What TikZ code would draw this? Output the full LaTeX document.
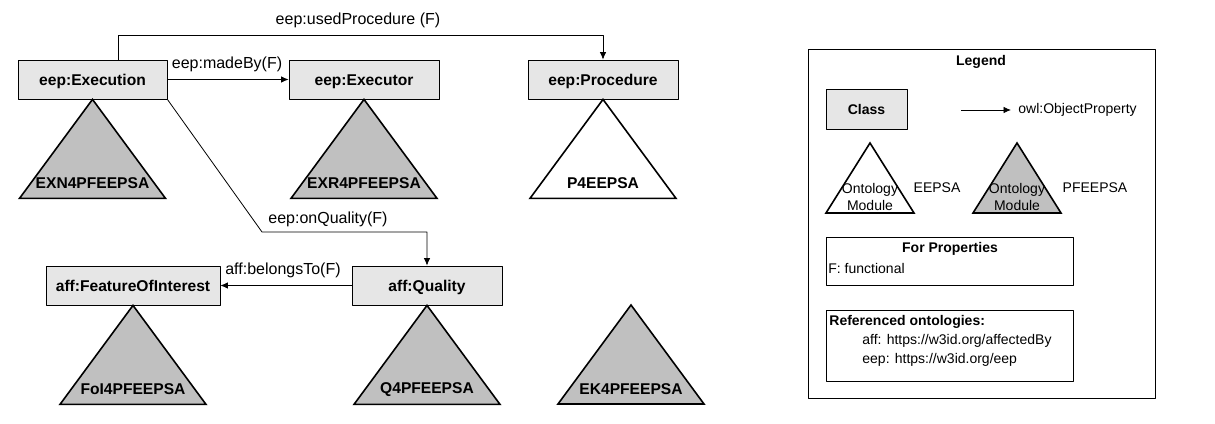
\documentclass[tikz,border=0pt]{standalone}
\usepackage{fontspec}
\setmainfont{Liberation Sans}
\usetikzlibrary{arrows.meta}
\definecolor{classfill}{RGB}{230,230,230}
\definecolor{modulefill}{RGB}{192,192,192}
\tikzset{
  classbox/.style={draw, fill=classfill, line width=0.8bp, minimum height=39bp, inner sep=0pt, text height=11.2bp, text depth=0pt, font=\fontsize{15.6bp}{18bp}\selectfont\bfseries},
  module/.style={draw, line width=1.6bp, line join=miter, fill=modulefill},
  emptymodule/.style={module, fill=white},
  modlabel/.style={inner sep=0pt, font=\fontsize{15.6bp}{18bp}\selectfont\bfseries},
  proplabel/.style={inner sep=0pt, font=\fontsize{16bp}{18bp}\selectfont},
  legendtext/.style={inner sep=0pt, font=\fontsize{14bp}{17bp}\selectfont},
  legendbold/.style={inner sep=0pt, font=\fontsize{14bp}{17bp}\selectfont\bfseries},
  framebox/.style={draw, line width=0.8bp, inner sep=0pt},
}
\begin{document}
\begin{tikzpicture}[>={Latex[length=7.5bp,width=6.5bp]},line join=bevel]
  \pgfsetlinewidth{0.8bp}
  \useasboundingbox (0bp,0bp) rectangle (1215bp,424bp);
%%
  % Node: eep:Execution
  \node[classbox, minimum width=149bp] (exec) at (92.5bp,344.5bp) {eep:Execution};
  % Node: eep:Executor
  \node[classbox, minimum width=150bp] (executor) at (364bp,344.5bp) {eep:Executor};
  % Node: eep:Procedure
  \node[classbox, minimum width=150bp] (proc) at (603bp,344.5bp) {eep:Procedure};
  % Node: aff:FeatureOfInterest
  \node[classbox, minimum width=174bp] (foi) at (133bp,138.5bp) {aff:FeatureOfInterest};
  % Node: aff:Quality
  \node[classbox, minimum width=150bp] (quality) at (427bp,138.5bp) {aff:Quality};
%%
  % Module: EXN4PFEEPSA
  \filldraw[module] (exec.south) -- ++(-73bp,-99bp) -- ++(146bp,0bp) -- cycle;
  \node[modlabel] (exn) at ([yshift=-84bp]exec.south) {EXN4PFEEPSA};
  % Module: EXR4PFEEPSA
  \filldraw[module] (executor.south) -- ++(-73bp,-99bp) -- ++(146bp,0bp) -- cycle;
  \node[modlabel] (exr) at ([yshift=-84bp]executor.south) {EXR4PFEEPSA};
  % Module: P4EEPSA
  \filldraw[emptymodule] (proc.south) -- ++(-73bp,-99bp) -- ++(146bp,0bp) -- cycle;
  \node[modlabel] (p4) at ([yshift=-84bp]proc.south) {P4EEPSA};
  % Module: FoI4PFEEPSA
  \filldraw[module] (foi.south) -- ++(-73bp,-99bp) -- ++(146bp,0bp) -- cycle;
  \node[modlabel] (foi4) at ([yshift=-84bp]foi.south) {FoI4PFEEPSA};
  % Module: Q4PFEEPSA
  \filldraw[module] (quality.south) -- ++(-73bp,-99bp) -- ++(146bp,0bp) -- cycle;
  \node[modlabel] (q4) at ([yshift=-84bp]quality.south) {Q4PFEEPSA};
  % Module: EK4PFEEPSA
  \coordinate (ektop) at (631bp,119bp);
  \filldraw[module] (ektop) -- ++(-73bp,-99bp) -- ++(146bp,0bp) -- cycle;
  \node[modlabel] (ek4) at ([yshift=-84bp]ektop) {EK4PFEEPSA};
%%
  % Edge: exec -> proc
  \coordinate (usedup) at (118bp,389bp);
  \draw[->] (exec.north -| usedup) -- (usedup) -| (proc.north);
  \node[proplabel] (usedlab) at (358bp,404bp) {eep:usedProcedure (F)};
  % Edge: exec -> executor
  \draw[->] (exec) -- (executor);
  \node[proplabel] (madelab) at (227bp,360bp) {eep:madeBy(F)};
  % Edge: exec -> quality
  \coordinate (qbend) at (262bp,192bp);
  \draw[->] (exec.south east) -- (qbend) -| (quality.north);
  \node[proplabel] (onqlab) at (328bp,205bp) {eep:onQuality(F)};
  % Edge: quality -> foi
  \draw[->] (quality) -- (foi);
  \node[proplabel] (belab) at (283bp,154bp) {aff:belongsTo(F)};
%%
  % Legend
  \node[framebox, minimum width=347bp, minimum height=349bp] (legend) at (981.5bp,200.5bp) {};
  \node[legendbold] (legtitle) at (981bp,362bp) {Legend};
  \node[classbox, minimum width=81bp, minimum height=40bp, text height=10bp, font=\fontsize{14bp}{17bp}\selectfont\bfseries] (legclass) at (866.5bp,314.5bp) {Class};
  \coordinate (legfrom) at (961bp,314bp);
  \coordinate (legto) at (1011bp,314bp);
  \draw[->] (legfrom) -- (legto);
  \node[legendtext, anchor=west] (legprop) at (1018bp,314bp) {owl:ObjectProperty};
  % Legend modules
  \coordinate (legwhite) at (870bp,281bp);
  \filldraw[emptymodule] (legwhite) -- ++(-44bp,-70bp) -- ++(88bp,0bp) -- cycle;
  \node[legendtext, align=center] (legwhitetxt) at (870bp,227bp) {Ontology\\Module};
  \node[legendtext] (legeepsa) at (937bp,236bp) {EEPSA};
  \coordinate (leggray) at (1017bp,281bp);
  \filldraw[module] (leggray) -- ++(-44bp,-70bp) -- ++(88bp,0bp) -- cycle;
  \node[legendtext, align=center] (leggraytxt) at (1017bp,227bp) {Ontology\\Module};
  \node[legendtext] (legpfeepsa) at (1095bp,236bp) {PFEEPSA};
  % For Properties
  \node[framebox, minimum width=247bp, minimum height=48bp] (forprop) at (949.5bp,163bp) {};
  \node[legendbold] (forproptitle) at (950bp,175bp) {For Properties};
  \node[legendtext, anchor=west] (forpropf) at (828bp,156bp) {F: functional};
  % Referenced ontologies
  \node[framebox, minimum width=247bp, minimum height=71bp] (refonto) at (949.5bp,78.5bp) {};
  \node[legendbold, anchor=west] (reftitle) at (829bp,102bp) {Referenced ontologies:};
  \node[legendtext, anchor=west] (refaff) at (862bp,83bp) {aff: https://w3id.org/affectedBy};
  \node[legendtext, anchor=west] (refeep) at (862bp,64bp) {eep: https://w3id.org/eep};
%
\end{tikzpicture}
\end{document}
